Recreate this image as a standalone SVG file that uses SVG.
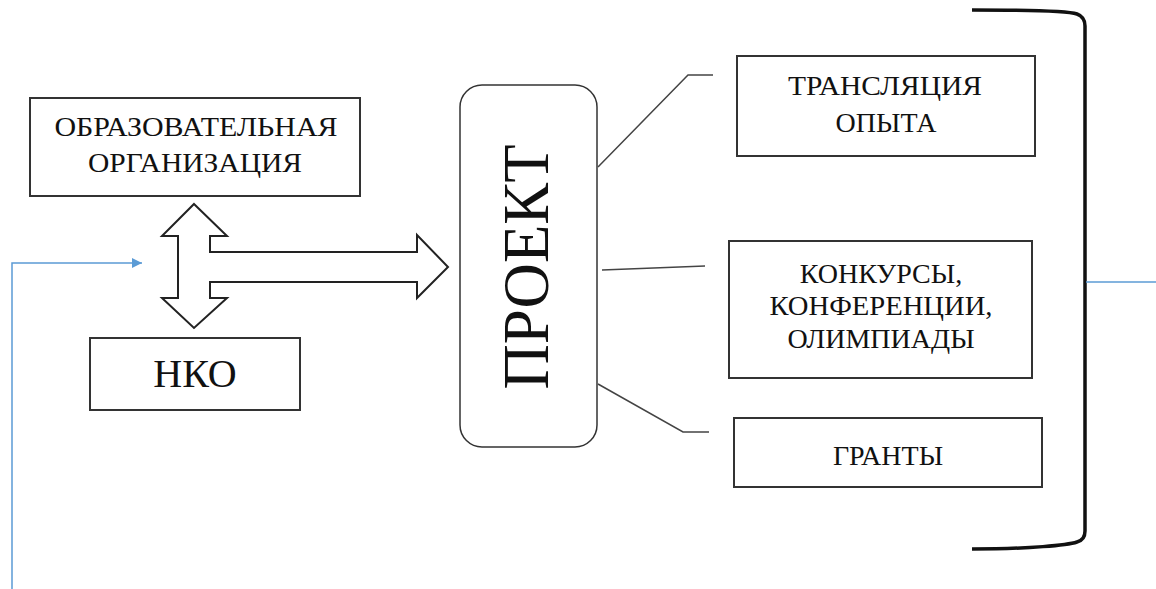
<svg xmlns="http://www.w3.org/2000/svg" width="1156" height="589" viewBox="0 0 1156 589">
<style>
.box{fill:#fff;stroke:#333;stroke-width:2}
text{font-family:"Liberation Serif","Times New Roman",serif;fill:#111;text-anchor:middle}
.conn{fill:none;stroke:#444;stroke-width:1.5}
.blue{fill:none;stroke:#5b9bd5;stroke-width:1.5}
</style>
<defs>
<marker id="ah" markerWidth="10" markerHeight="10" refX="10" refY="5" orient="auto" markerUnits="userSpaceOnUse" viewBox="0 0 10 10">
<path d="M0,0 L10,5 L0,10 z" fill="#5b9bd5"/>
</marker>
</defs>
<rect width="1156" height="589" fill="#fff"/>
<g id="node-org">
<rect class="box" x="30" y="98" width="330" height="98"/>
<text font-size="28" x="196" y="136" textLength="283" lengthAdjust="spacingAndGlyphs">ОБРАЗОВАТЕЛЬНАЯ</text>
<text font-size="28" x="195" y="172" textLength="214" lengthAdjust="spacingAndGlyphs">ОРГАНИЗАЦИЯ</text>
</g>
<g id="node-nko">
<rect class="box" x="90" y="338" width="210" height="72"/>
<text font-size="40" x="195" y="387">НКО</text>
</g>
<g id="node-project">
<rect x="460" y="85" width="137" height="362" rx="22" ry="22" fill="#fff" stroke="#333" stroke-width="1.5"/>
<text font-size="66" transform="translate(548,267) rotate(-90)" x="0" y="0" textLength="245" lengthAdjust="spacingAndGlyphs">ПРОЕКТ</text>
</g>
<g id="node-translation">
<rect class="box" x="737" y="56" width="298" height="100"/>
<text font-size="28" x="885" y="95" textLength="194" lengthAdjust="spacingAndGlyphs">ТРАНСЛЯЦИЯ</text>
<text font-size="28" x="886" y="132">ОПЫТА</text>
</g>
<g id="node-contests">
<rect class="box" x="729" y="241" width="303" height="137"/>
<text font-size="28" x="881" y="283">КОНКУРСЫ,</text>
<text font-size="28" x="881" y="315" textLength="223" lengthAdjust="spacingAndGlyphs">КОНФЕРЕНЦИИ,</text>
<text font-size="28" x="881" y="348">ОЛИМПИАДЫ</text>
</g>
<g id="node-grants">
<rect class="box" x="734" y="418" width="308" height="69"/>
<text font-size="28" x="888" y="465">ГРАНТЫ</text>
</g>
<g id="connectors">
<polygon points="194,204 227,236 210,236 210,252 417,252 417,235 448,267 417,298 417,282 210,282 210,298 227,298 194,328 162,298 178,298 178,236 162,236" fill="#fff" stroke="#222" stroke-width="2" stroke-linejoin="miter"/>
<polyline class="conn" points="598,167 688,75 713,75"/>
<polyline class="conn" points="602,270 705,266"/>
<polyline class="conn" points="598,384 683,432 709,432"/>
<path d="M972,10 C1030,10 1068,11 1077,14 Q1085,17 1085,26 L1085,531 Q1085,540 1077,542 C1068,545 1030,549 972,549" fill="none" stroke="#111" stroke-width="3.5"/>
<line class="blue" x1="1086" y1="282" x2="1156" y2="282"/>
<polyline class="blue" points="12,589 12,263 142,263" stroke-width="1.2" marker-end="url(#ah)"/>
</g>
</svg>
